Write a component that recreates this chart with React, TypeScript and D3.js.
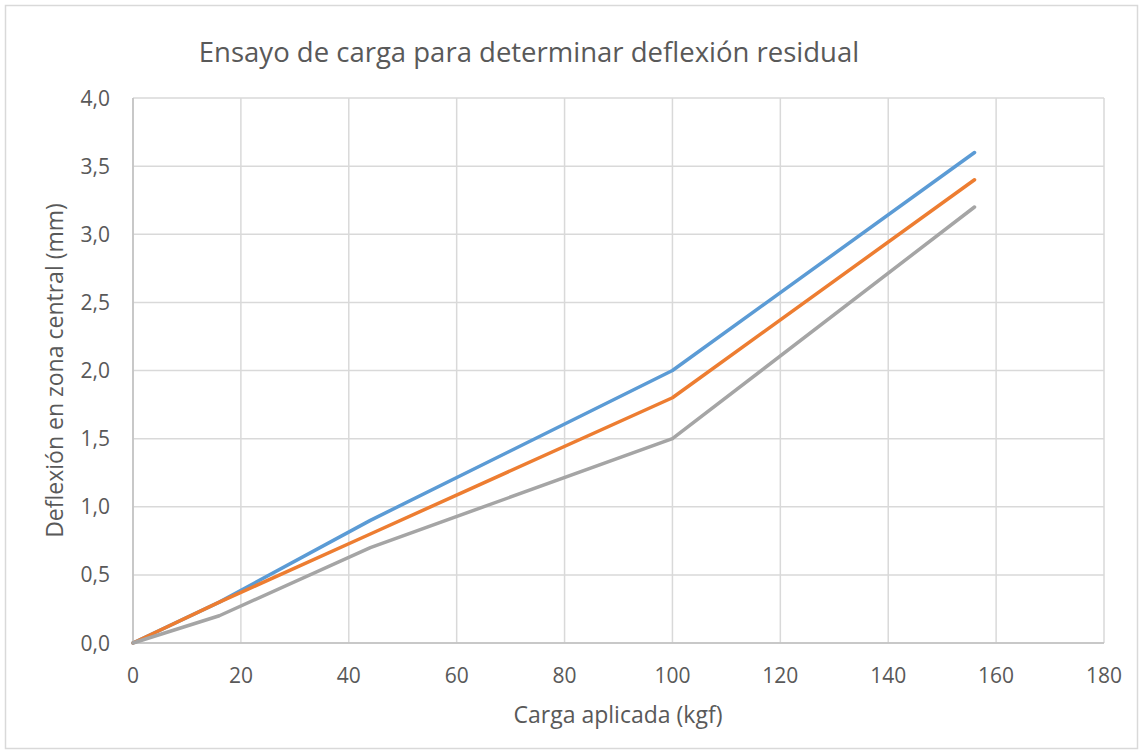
import React from "react";
import * as d3 from "d3";

// carga aplicada (kgf) y deflexión (mm) por serie
const cargas = [0, 16, 44, 100, 156];
const serieAzul = [0, 0.3, 0.9, 2.0, 3.6];
const serieNaranja = [0, 0.3, 0.8, 1.8, 3.4];
const serieGris = [0, 0.2, 0.7, 1.5, 3.2];

const xTicks = [0, 20, 40, 60, 80, 100, 120, 140, 160, 180];
const yTicks = [0, 0.5, 1, 1.5, 2, 2.5, 3, 3.5, 4];

const series = [
  { name: "Serie 1", values: serieAzul, color: "#5b9bd5" },
  { name: "Serie 2", values: serieNaranja, color: "#ed7d31" },
  { name: "Serie 3", values: serieGris, color: "#a5a5a5" },
];

const W = 1143;
const H = 754;
const margin = { left: 133, right: 39, top: 98, bottom: 111 };
const font = "'Open Sans', Lato, sans-serif";

const App: React.FC = () => {
  const x = d3.scaleLinear().domain([0, 180]).range([margin.left, W - margin.right]);
  const y = d3.scaleLinear().domain([0, 4]).range([H - margin.bottom, margin.top]);
  const fmt = (v: number) => v.toFixed(1).replace(".", ",");

  const line = d3
    .line<number>()
    .x((_, i) => x(cargas[i]))
    .y((d) => y(d));

  return (
    <svg
      width={W}
      height={H}
      style={{ position: "absolute", left: 0, top: 0, background: "#fff" }}
    >
      <rect x={5.5} y={5.5} width={W - 11} height={H - 11} fill="#fff" stroke="#d9d9d9" strokeWidth={1.5} />
      <text x={529} y={62} textAnchor="middle" fontFamily={font} fontSize={27.5} fill="#595959">
        Ensayo de carga para determinar deflexión residual
      </text>

      {/* grid */}
      {yTicks.map((t) => (
        <line key={"gy" + t} x1={x(0)} x2={x(180)} y1={y(t)} y2={y(t)} stroke="#d9d9d9" strokeWidth={1.5} />
      ))}
      {xTicks.map((t) => (
        <line key={"gx" + t} x1={x(t)} x2={x(t)} y1={y(0)} y2={y(4)} stroke="#d9d9d9" strokeWidth={1.5} />
      ))}
      {/* axes */}
      <line x1={x(0)} x2={x(180)} y1={y(0)} y2={y(0)} stroke="#bfbfbf" strokeWidth={1.5} />
      <line x1={x(0)} x2={x(0)} y1={y(0)} y2={y(4)} stroke="#bfbfbf" strokeWidth={1.5} />

      {yTicks.map((t) => (
        <text key={"ty" + t} x={110} y={y(t)} dy="0.36em" textAnchor="end" fontFamily={font} fontSize={21} fill="#595959">
          {fmt(t)}
        </text>
      ))}
      {xTicks.map((t) => (
        <text key={"tx" + t} x={x(t)} y={683} textAnchor="middle" fontFamily={font} fontSize={21} fill="#595959">
          {t}
        </text>
      ))}

      <text x={618} y={723} textAnchor="middle" fontFamily={font} fontSize={23} fill="#595959">
        Carga aplicada (kgf)
      </text>
      <text
        transform={`translate(63, ${(y(0) + y(4)) / 2}) rotate(-90)`}
        textAnchor="middle"
        fontFamily={font}
        fontSize={23}
        fill="#595959"
      >
        Deflexión en zona central (mm)
      </text>

      {series.map((s) => (
        <path
          key={s.name}
          d={line(s.values) || ""}
          fill="none"
          stroke={s.color}
          strokeWidth={3.5}
          strokeLinecap="round"
          strokeLinejoin="round"
        />
      ))}
    </svg>
  );
};

export default App;
